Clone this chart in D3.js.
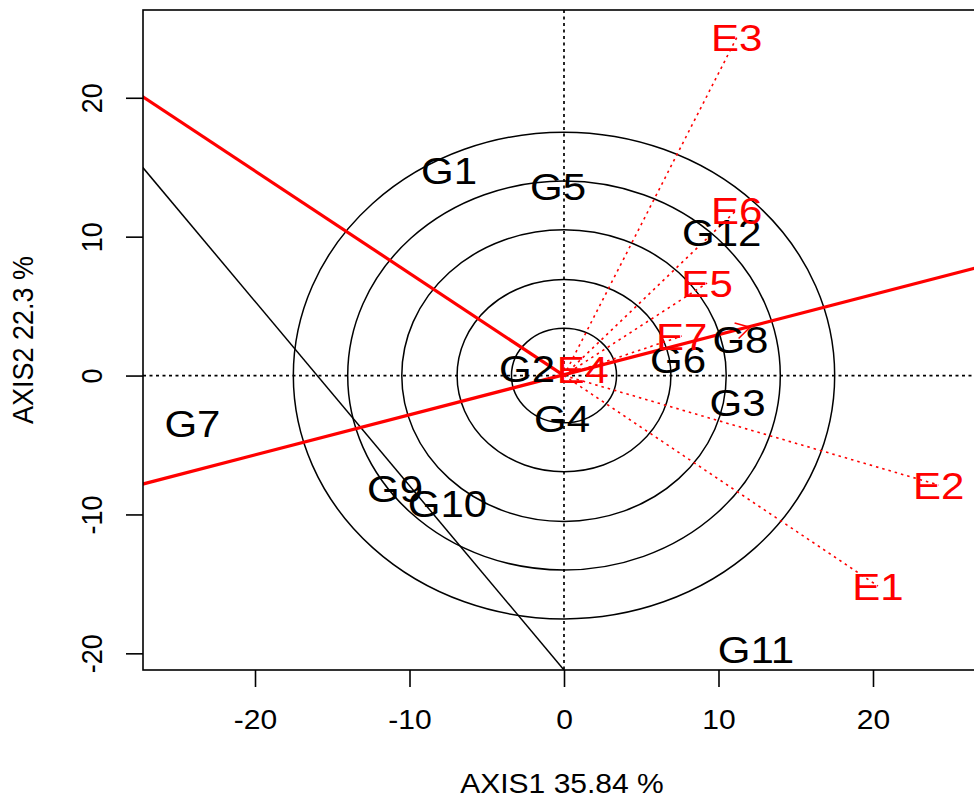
<!DOCTYPE html>
<html>
<head>
<meta charset="utf-8">
<script src="https://cdn.jsdelivr.net/npm/d3@7"></script>
<style>
  html, body { margin: 0; padding: 0; background: #fff; }
  svg { display: block; }
  text { font-family: "Liberation Sans", Arial, Helvetica, sans-serif; }
</style>
</head>
<body>
<div id="biplot"></div>
<script>
"use strict";

// genotype scores (AXIS1, AXIS2)
var genotypes = ["G1", "G2", "G3", "G4", "G5", "G6", "G7", "G8", "G9", "G10", "G11", "G12"];
var genoX = [-7.44, -2.39, 11.23, -0.13, -0.39, 7.38, -24.05, 11.42, -10.94, -7.54, 12.43, 10.21];
var genoY = [14.76, 0.54, -1.91, -3.06, 13.64, 1.19, -3.47, 2.63, -8.1, -9.18, -19.73, 10.33];

// environment scores
var envs = ["E1", "E2", "E3", "E4", "E5", "E6", "E7"];
var envX = [20.32, 24.25, 11.18, 1.2, 9.26, 11.18, 7.62];
var envY = [-15.15, -7.88, 24.33, 0.47, 6.66, 11.92, 2.84];

// concentric circles around the origin
var circleRadii = [3.4, 6.92, 10.5, 14.0, 17.52];

// reference lines, each given by two points
var redRay = [[0, 0], [-27.25, 20.07]];
var aeaLine = [[-27.25, -7.81], [26.53, 7.72]];
var aeaArrow = [12.04, 3.48];
var blackLine = [[-27.25, 14.96], [0, -21.2]];

var xTicks = [-20, -10, 0, 10, 20];
var yTicks = [-20, -10, 0, 10, 20];
var xTitle = "AXIS1 35.84 %";
var yTitle = "AXIS2 22.3 %";

draw(document.getElementById("biplot"));

function draw(element) {
  var width = 974,
    height = 799,
    plot = { left: 143, right: 985, top: 10, bottom: 670 },
    stretch = 1.112;

  var x = d3.scaleLinear().domain([-27.25, 27.25]).range([plot.left, plot.right]);
  var y = d3.scaleLinear().domain([-21.2, 26.32]).range([plot.bottom, plot.top]);

  var svg = d3
    .select(element)
    .append("svg")
    .attr("width", width)
    .attr("height", height);

  svg
    .append("clipPath")
    .attr("id", "plotClip")
    .append("rect")
    .attr("x", plot.left)
    .attr("y", plot.top)
    .attr("width", plot.right - plot.left)
    .attr("height", plot.bottom - plot.top);

  var g = svg.append("g").attr("clip-path", "url(#plotClip)");

  // dotted axes through the origin
  g.append("line")
    .attr("x1", plot.left)
    .attr("x2", plot.right)
    .attr("y1", y(0))
    .attr("y2", y(0))
    .style("stroke", "#000")
    .style("stroke-width", 1.7)
    .style("stroke-dasharray", "3,3.5");

  g.append("line")
    .attr("x1", x(0))
    .attr("x2", x(0))
    .attr("y1", plot.top)
    .attr("y2", plot.bottom)
    .style("stroke", "#000")
    .style("stroke-width", 1.7)
    .style("stroke-dasharray", "3,3.5");

  g.selectAll(".ring")
    .data(circleRadii)
    .enter()
    .append("ellipse")
    .attr("class", "ring")
    .attr("cx", x(0))
    .attr("cy", y(0))
    .attr("rx", function(r) {
      return x(r) - x(0);
    })
    .attr("ry", function(r) {
      return y(0) - y(r);
    })
    .style("fill", "none")
    .style("stroke", "#000")
    .style("stroke-width", 1.5);

  // dotted vectors to environments
  g.selectAll(".env-vector")
    .data(envs)
    .enter()
    .append("line")
    .attr("class", "env-vector")
    .attr("x1", x(0))
    .attr("y1", y(0))
    .attr("x2", function(d, i) {
      return x(envX[i]);
    })
    .attr("y2", function(d, i) {
      return y(envY[i]);
    })
    .style("stroke", "#f00")
    .style("stroke-width", 1.6)
    .style("stroke-dasharray", "2.5,4");

  var blackFull = extend(blackLine, 0.2);
  g.append("line")
    .attr("x1", x(blackFull[0][0]))
    .attr("y1", y(blackFull[0][1]))
    .attr("x2", x(blackFull[1][0]))
    .attr("y2", y(blackFull[1][1]))
    .style("stroke", "#000")
    .style("stroke-width", 1.5);

  var aeaFull = extend(aeaLine, 0.2);
  g.append("line")
    .attr("x1", x(aeaFull[0][0]))
    .attr("y1", y(aeaFull[0][1]))
    .attr("x2", x(aeaFull[1][0]))
    .attr("y2", y(aeaFull[1][1]))
    .style("stroke", "#f00")
    .style("stroke-width", 3.2);

  g.append("line")
    .attr("x1", x(redRay[0][0]))
    .attr("y1", y(redRay[0][1]))
    .attr("x2", x(redRay[1][0] * 1.2))
    .attr("y2", y(redRay[1][1] * 1.2))
    .style("stroke", "#f00")
    .style("stroke-width", 3.2);

  // small arrow head on the average environment axis
  var tx = x(aeaArrow[0]),
    ty = y(aeaArrow[1]),
    ang = Math.atan2(ty - y(0), tx - x(0)),
    headLen = 16;
  [ang + Math.PI * 5 / 6, ang - Math.PI * 5 / 6].forEach(function(a) {
    g.append("line")
      .attr("x1", tx)
      .attr("y1", ty)
      .attr("x2", tx + headLen * Math.cos(a))
      .attr("y2", ty + headLen * Math.sin(a))
      .style("stroke", "#f00")
      .style("stroke-width", 1.6);
  });

  var labelSize = 37.8;

  g.selectAll(".geno")
    .data(genotypes)
    .enter()
    .append("text")
    .attr("class", "geno")
    .attr("text-anchor", "middle")
    .attr("transform", function(d, i) {
      return "translate(" + x(genoX[i]) + "," + (y(genoY[i]) + 0.358 * labelSize) + ") scale(" + stretch + ",1)";
    })
    .style("font-size", labelSize + "px")
    .style("fill", "#000")
    .text(function(d) {
      return d;
    });

  g.selectAll(".env")
    .data(envs)
    .enter()
    .append("text")
    .attr("class", "env")
    .attr("text-anchor", "middle")
    .attr("transform", function(d, i) {
      return "translate(" + x(envX[i]) + "," + (y(envY[i]) + 0.358 * labelSize) + ") scale(" + stretch + ",1)";
    })
    .style("font-size", labelSize + "px")
    .style("fill", "#f00")
    .text(function(d) {
      return d;
    });

  // box
  svg
    .append("rect")
    .attr("x", plot.left)
    .attr("y", plot.top)
    .attr("width", plot.right - plot.left)
    .attr("height", plot.bottom - plot.top)
    .style("fill", "none")
    .style("stroke", "#000")
    .style("stroke-width", 1.6);

  var axisFont = 27;
  var plain = function(d) {
    return String(d);
  };

  var xAxis = svg
    .append("g")
    .attr("transform", "translate(0," + plot.bottom + ")")
    .call(
      d3
        .axisBottom(x)
        .tickValues(xTicks)
        .tickFormat(plain)
        .tickSize(17)
        .tickSizeOuter(0)
        .tickPadding(23)
    );
  xAxis.select(".domain").remove();
  xAxis.selectAll("line").style("stroke-width", 1.6);
  xAxis
    .selectAll("text")
    .attr("font-family", null)
    .style("font-size", axisFont + "px")
    .style("fill", "#000")
    .attr("transform", "scale(" + stretch + ",1)");

  var yAxis = svg
    .append("g")
    .attr("transform", "translate(" + plot.left + ",0)")
    .call(
      d3
        .axisLeft(y)
        .tickValues(yTicks)
        .tickFormat(plain)
        .tickSize(17)
        .tickSizeOuter(0)
    );
  yAxis.select(".domain").remove();
  yAxis.selectAll("line").style("stroke-width", 1.6);
  yAxis
    .selectAll("text")
    .attr("font-family", null)
    .attr("x", null)
    .attr("dy", null)
    .attr("text-anchor", "middle")
    .style("font-size", axisFont + "px")
    .style("fill", "#000")
    .attr("transform", "translate(-41.3,0) scale(" + stretch + ",1) rotate(-90)");

  svg
    .append("text")
    .attr("text-anchor", "middle")
    .attr("transform", "translate(562,792.7) scale(" + stretch + ",1)")
    .style("font-size", axisFont + "px")
    .text(xTitle);

  svg
    .append("text")
    .attr("text-anchor", "middle")
    .attr("transform", "translate(33.3," + (plot.top + plot.bottom) / 2 + ") scale(" + stretch + ",1) rotate(-90)")
    .style("font-size", axisFont + "px")
    .text(yTitle);
}

function extend(seg, f) {
  var dx = seg[1][0] - seg[0][0],
    dy = seg[1][1] - seg[0][1];
  return [
    [seg[0][0] - dx * f, seg[0][1] - dy * f],
    [seg[1][0] + dx * f, seg[1][1] + dy * f]
  ];
}
</script>
</body>
</html>
